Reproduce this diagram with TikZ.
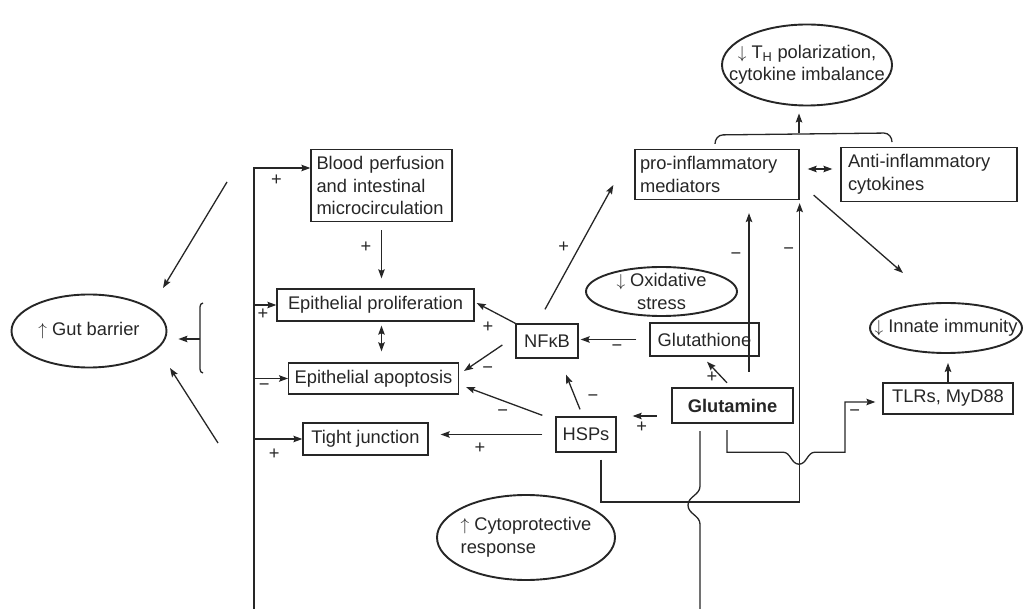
\documentclass[tikz,border=0pt]{standalone}
\usepackage{fontspec}
\setmainfont{Liberation Sans}
\usetikzlibrary{arrows.meta,shapes.geometric}

\begin{document}
\begin{tikzpicture}[x=1pt, y=-1pt, line width=1.3pt, color=black!85,
  font=\fontsize{18.3}{22.5}\selectfont,
  >={Stealth[length=9pt,width=6.5pt,inset=1.5pt]},
  box/.style={draw, rectangle, inner xsep=6pt, inner ysep=7pt, minimum height=32pt},
  oval/.style={draw, ellipse, inner sep=-40pt, line width=1.9pt},
  sgn/.style={inner sep=0pt}]
\useasboundingbox (0,0) rectangle (1023,609);

\node[oval, minimum width=155pt, minimum height=73pt] (gut) at (89,331) {$\uparrow$ Gut barrier};
\node[box, text width=130pt, inner xsep=5.5pt, align=left] (blood) at (381.5,185.5) {Blood perfusion\\and intestinal\\microcirculation};
\node[box, minimum width=197pt] (prolif) at (375.5,305) {Epithelial proliferation};
\node[box, minimum width=167pt, minimum height=31pt] (apop) at (373.5,378.5) {Epithelial apoptosis};
\node[box, minimum width=125pt] (tight) at (365.5,439) {Tight junction};
\node[box, minimum width=62pt, minimum height=34pt] (nfkb) at (547,341) {NFκB};
\node[box, minimum width=60pt, minimum height=35pt] (hsps) at (586,434.5) {HSPs};
\node[oval, align=left, minimum width=178pt, minimum height=85pt] (cyto) at (526,537.5) {$\uparrow$ Cytoprotective\\response};
\node[oval, align=center, minimum width=151pt, minimum height=49pt] (oxid) at (661.5,291.5) {$\downarrow$ Oxidative\\stress};
\node[box, minimum width=109pt, minimum height=33pt] (gsh) at (704.5,339.5) {Glutathione};
\node[box, minimum width=121pt, minimum height=35pt, line width=2.4pt, font=\fontsize{18.3}{22.5}\selectfont\bfseries] (gln) at (732.5,405.5) {Glutamine};
\node[box, text width=154pt, inner xsep=5pt, align=left] (pro) at (717,174.5) {pro-inflammatory\\mediators};
\node[box, text width=162pt, inner xsep=7pt, align=left] (anti) at (929,174.5) {Anti-inflammatory\\cytokines};
\node[oval, align=center, minimum width=170pt, minimum height=81pt] (th) at (807,65) {$\downarrow$ T\textsubscript{H} polarization,\\cytokine imbalance};
\node[oval, minimum width=152pt, minimum height=50pt] (innate) at (946,328) {$\downarrow$ Innate immunity};
\node[box, minimum width=130pt, minimum height=31pt] (tlr) at (948,398.5) {TLRs, MyD88};

\coordinate (in1) at (227,182);
\coordinate (in2) at (218,443);
\coordinate (brk) at (200,339);
\coordinate (feed) at (254,609);
\coordinate (glnout) at (700,609);
\coordinate (brc) at (799,133);

\draw[->] (in1) -- ([shift={(74,-43)}]gut.center);
\draw[->] (in2) -- ([shift={(81,37)}]gut.center);
\draw (brk) ++(3,-36) to[out=180,in=90] ++(-3,4) -- ++(0,62) to[out=-90,in=180] ++(3,4);
\draw[->, shorten >=11pt] (brk) -- (brk -| gut.east);

\foreach \to/\dy/\p/\s/\ys in {blood/17.5/0.70/+/-12, prolif/0/0.70/+/-9, apop/0/0.65/−/-9, tight/0/0.71/+/-15}
  \draw[->] (feed) |- ([yshift=\dy pt]\to.west) node[sgn, pos=\p, yshift=\ys pt] {\s};

\draw[->, shorten <=8pt, shorten >=10pt] (blood.south) -- (blood.south |- prolif.north) node[sgn, pos=0.5, xshift=-15.5pt, yshift=8.5pt] {+};
\draw[<->, shorten <=4pt, shorten >=11pt] (blood.south |- prolif.south) -- (blood.south |- apop.north);
\draw[->] (nfkb.north west) -- ([shift={(2,-2)}]prolif.east) node[sgn, pos=0.5, xshift=-8pt, yshift=-14.5pt] {+};
\draw[->] ([shift={(-13,4)}]nfkb.west) -- ([shift={(5,-7.5)}]apop.east) node[sgn, pos=0.5, xshift=4.5pt, yshift=-12pt] {−};
\draw[->] ([shift={(-13,-1)}]hsps.north west) -- ([shift={(7,8.5)}]apop.east) node[sgn, pos=0.5, xshift=-1.5pt, yshift=-11.5pt] {−};
\draw[->] ([shift={(-6,-7)}]hsps.north) -- ([shift={(19,16)}]nfkb.south) node[sgn, pos=0.5, xshift=20pt, yshift=-6pt] {−};
\draw[->, shorten <=13pt, shorten >=12pt] (hsps.west) -- (hsps.west -| tight.east) node[sgn, pos=0.5, xshift=-12pt, yshift=-13.5pt] {+};
\draw[->] ([shift={(-2,-14)}]nfkb.north) -- ([shift={(-21,10.5)}]pro.west) node[sgn, pos=0.5, xshift=-15.5pt, yshift=-0.5pt] {+};
\draw[->, shorten <=13pt, shorten >=2pt] (gsh.west) -- (gsh.west -| nfkb.east) node[sgn, pos=0.5, xshift=3pt, yshift=-8.5pt] {−};
\draw[->] ([shift={(-5.5,-4)}]gln.north) -- ([shift={(2.5,5)}]gsh.south) node[sgn, pos=0.5, xshift=-5pt, yshift=-4.5pt] {+};
\draw[->] ([shift={(-14,10.5)}]gln.west) -- ([shift={(16,-18.5)}]hsps.east) node[sgn, pos=0.5, xshift=-3pt, yshift=-11pt] {+};
\draw[->] ([shift={(16.5,-15)}]gln.north) -- ([shift={(32,13)}]pro.south) node[sgn, pos=0.73, xshift=-13pt] {−};
\draw[->, shorten >=3pt] ([shift={(15,7)}]hsps.south) |- ([shift={(0,302)}]pro.south east) -- (pro.south east) node[sgn, pos=0.83, xshift=-11pt] {−};
\draw ([shift={(-32.5,7)}]gln.south) -- ++(0,55) to[out=-90,in=90] ++(-12,19) to[out=-90,in=90] ++(12,19) -- (glnout);
\draw[->, shorten >=7pt] ([shift={(-5.5,6)}]gln.south) -- ++(0,22) -- ++(56,0) to[out=0,in=180] ++(16,12) to[out=0,in=180] ++(16,-12) -- ++(30,0) |- ([yshift=-3.5pt]tlr.west) node[sgn, pos=0.63, yshift=-11pt] {−};

\draw ([shift={(-2,-5)}]pro.north) to[out=90,in=180] ++(8,-9) -- ([shift={(-45,-14)}]anti.north) to[out=0,in=90] ([shift={(-37,-5)}]anti.north);
\draw[->, shorten >=7pt] (brc) -- (brc |- th.south);
\draw[<->, shorten <=8pt, shorten >=8pt] ([yshift=5.5pt]pro.east) -- ([yshift=5.5pt]anti.west);
\draw[->] ([shift={(14,-5)}]pro.south east) -- ([shift={(-43,-55)}]innate.center);
\draw[->, shorten >=9pt] (tlr.north) -- (tlr.north |- innate.south);
\end{tikzpicture}
\end{document}
